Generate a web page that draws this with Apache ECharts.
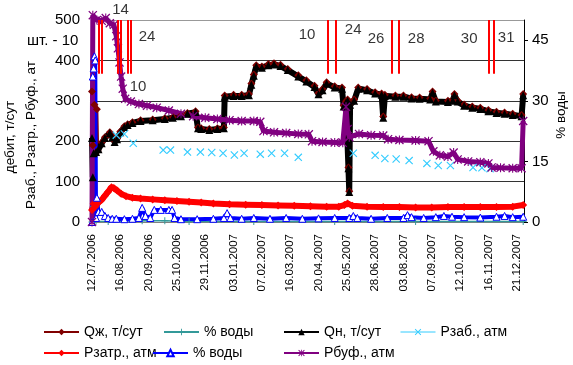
<!DOCTYPE html>
<html><head><meta charset="utf-8">
<script src="https://cdn.jsdelivr.net/npm/echarts@6/dist/echarts.min.js"></script>
<style>html,body{margin:0;padding:0;background:#fff}#c{width:573px;height:365px}</style>
</head><body><div id="c"></div>
<script>
// x positions are day indices of the daily category axis (one tick label every 35 rows)
const xLabels = ['12.07.2006','16.08.2006','20.09.2006','25.10.2006','29.11.2006','03.01.2007','07.02.2007','16.03.2007','20.04.2007','25.05.2007','28.06.2007','03.08.2007','07.09.2007','12.10.2007','16.11.2007','21.12.2007'];

const qzData = [[0,323],[1,190],[3,290],[6,279],[7,176],[12,197],[16,210],[22,222],[25,212],[28,200],[31,207],[35,224],[40,237],[44,242],[50,247],[60,252],[75,254],[90,257],[100,260],[110,264],[118,270],[128,274],[131,234],[135,232],[145,230],[155,232],[163,234],[164,313],[175,315],[185,315],[194,317],[197,343],[200,365],[203,388],[210,385],[218,391],[225,393],[233,389],[242,379],[255,363],[265,351],[275,337],[280,319],[285,329],[290,346],[300,336],[309,333],[311,289],[314,299],[316,303],[317,135],[318,76],[319,293],[324,303],[329,333],[340,329],[350,321],[358,318],[360,261],[362,315],[375,313],[385,313],[395,309],[405,308],[418,306],[421,323],[425,301],[440,300],[446,303],[448,317],[452,301],[460,291],[470,286],[480,283],[490,277],[500,273],[510,271],[520,268],[531,265],[533,317]];

const wcutTealData = [[0,0],[2,38],[4,40],[5,2],[20,1],[62,3],[90,3],[120,1],[200,1],[300,1],[400,1],[533,1]];

const qnData = [[0,208],[1,111],[2,170],[5,173],[8,180],[12,195],[16,208],[22,220],[25,210],[28,198],[31,205],[35,222],[40,235],[44,240],[50,245],[60,250],[75,252],[90,255],[100,258],[110,262],[118,268],[128,272],[131,232],[135,230],[145,228],[155,230],[163,232],[164,310],[175,312],[185,312],[194,314],[197,340],[200,362],[203,385],[210,382],[218,388],[225,390],[233,386],[242,376],[255,360],[265,348],[275,334],[280,316],[285,326],[290,343],[300,333],[309,330],[311,286],[314,296],[316,300],[317,133],[318,74],[319,290],[324,300],[329,330],[340,326],[350,318],[358,315],[360,258],[362,312],[375,310],[385,310],[395,306],[405,305],[418,303],[421,320],[425,298],[440,297],[446,300],[448,314],[452,298],[460,288],[470,283],[480,280],[490,274],[500,270],[510,268],[520,265],[531,262],[533,314]];

const pzabData = [[30,215],[40,218],[51,195],[88,178],[97,178],[118,173],[134,173],[148,172],[162,170],[176,166],[188,170],[208,168],[222,170],[238,170],[255,160],[323,170],[350,165],[362,157],[376,156],[392,152],[414,145],[428,140],[443,140],[471,135],[482,134],[492,132]];

const pzatrData = [[0,30],[2,45],[4,38],[8,48],[12,55],[16,65],[20,75],[24,86],[27,84],[31,78],[36,70],[42,64],[50,60],[60,58],[75,56],[90,54],[105,52],[120,50],[135,48],[150,46],[170,44],[190,43],[210,42],[230,41],[250,40],[270,39],[290,38],[305,38],[312,42],[316,46],[322,40],[340,38],[360,37],[380,37],[400,36],[420,36],[440,37],[460,37],[480,37],[500,37],[520,38],[533,42]];

const wcutBlueData = [[0,0],[1,36],[2,38],[3,41],[4,40],[5,1],[6,6],[8,2.5],[12,2.5],[16,1.5],[20,1],[25,0.8],[30,0.8],[40,0.7],[50,0.8],[58,1],[62,3.5],[66,1.5],[72,1],[77,3],[85,3],[95,3],[99,3],[102,1],[110,0.7],[130,0.7],[150,0.8],[163,1],[167,2.2],[171,1],[185,0.8],[200,1],[220,0.8],[240,1],[260,0.8],[280,0.9],[300,1],[318,1],[323,1.5],[328,1],[345,0.8],[365,1],[385,1],[390,1.7],[395,1.2],[410,1],[425,1.2],[435,1.5],[445,1.3],[460,1.2],[480,1.1],[500,1.3],[510,1.5],[520,1.2],[533,1.3]];

const pbufData = [[0,0],[1,512],[6,500],[12,498],[17,505],[22,492],[27,488],[30,460],[32,430],[34,395],[36,360],[38,330],[41,305],[48,298],[58,292],[68,288],[80,283],[95,276],[110,268],[125,262],[140,258],[155,255],[170,252],[185,250],[200,250],[208,248],[212,225],[225,222],[240,220],[255,218],[268,217],[272,200],[285,198],[300,197],[310,196],[314,285],[316,230],[318,210],[330,218],[345,215],[360,214],[366,205],[380,203],[400,202],[416,200],[422,175],[430,165],[440,162],[447,172],[452,155],[465,150],[480,148],[490,145],[494,135],[505,134],[520,133],[531,133],[533,250]];

// event markers: pairs of red lines and their numbers
const eventLines = [8.7, 11.7, 31.5, 35.9, 44.5, 47.6, 292, 301.8, 371, 379.7, 491, 496];
const eventLineTop = 500, eventLineBottom = 367;
const eventLabels = [[35.2,525,'14'],[68,458,'24'],[56.9,334,'10'],[265.9,463,'10'],[322.8,475,'24'],[351.2,453,'26'],[400.7,453,'28'],[466.2,453,'30'],[512,455,'31']];

const FONT = 'Liberation Sans';
const SYM_PLUS = 'path://M4.3,0H5.7V10H4.3Z M0,4.3H10V5.7H0Z';
const SYM_X = 'path://M0,1L1,0L10,9L9,10Z M9,0L10,1L1,10L0,9Z';
const SYM_STAR = 'path://M0,1L1,0L10,9L9,10Z M9,0L10,1L1,10L0,9Z M4.4,0H5.6V10H4.4Z';

const chart = echarts.init(document.getElementById('c'), null, {renderer:'canvas'});

function lineSeries(name, data, color, symbol, size, width, extra) {
  return Object.assign({
    type:'line', name, data, symbol, symbolSize:size, showSymbol:true,
    lineStyle:{color, width}, itemStyle:{color}, animation:false, z:2
  }, extra || {});
}

const legendItems = [
  {name:'Qж, т/сут', left:43, top:325},
  {name:'% воды', left:163, top:325},
  {name:'Qн, т/сут', left:283, top:325},
  {name:'Рзаб., атм', left:400, top:325},
  {name:'Рзатр., атм', left:43, top:346},
  {name:'% воды ', left:152, top:346},
  {name:'Рбуф., атм', left:283, top:346}
];

const option = {
  backgroundColor:'#fff',
  animation:false,
  grid:{left:92, right:49, top:20, bottom:143, containLabel:false},
  xAxis:{
    type:'value', min:0, max:534, interval:35,
    axisLine:{show:true, lineStyle:{color:'#808080'}},
    axisTick:{show:false},
    splitLine:{show:false},
    axisLabel:{
      rotate:90, margin:12, fontFamily:FONT, fontSize:11.5, color:'#000',
      showMaxLabel:false,
      formatter:v => { const i = Math.round(v/35); return (v % 35 === 0 && xLabels[i]) ? xLabels[i] : ''; },
      padding:[0,0,7,0]
    }
  },
  yAxis:[{
    type:'value', min:0, max:500, interval:100,
    axisLine:{show:true, lineStyle:{color:'#808080'}},
    axisTick:{show:false},
    axisLabel:{fontFamily:FONT, fontSize:15, color:'#000', margin:12},
    splitLine:{show:true, lineStyle:{color:['#808080','#333','#333','#333','#333','#999'], width:1}}
  },{
    type:'value', min:0, max:50, interval:15, position:'right',
    axisLine:{show:true, lineStyle:{color:'#000'}},
    axisTick:{show:true, length:4, lineStyle:{color:'#000'}},
    axisLabel:{fontFamily:FONT, fontSize:15, color:'#000', margin:8, showMaxLabel:false},
    splitLine:{show:false}
  }],
  legend: legendItems.map(it => ({
    left:it.left, top:it.top, itemWidth:35, itemHeight:8, itemGap:4, padding:0,
    selectedMode:false,
    textStyle:{fontFamily:FONT, fontSize:14, color:'#000', padding:[0,0,0,0]},
    data: it.name === 'Рзаб., атм'
      ? [{name:it.name, lineStyle:{width:1, color:'#33ccff', opacity:1}}]
      : [it.name]
  })),
  graphic:[
    {type:'text', x:10, y:137, rotation:Math.PI/2, style:{text:'дебит, т/сут', fontFamily:FONT, fontSize:13.5, fill:'#000', align:'center', verticalAlign:'middle'}},
    {type:'text', x:31, y:135, rotation:Math.PI/2, style:{text:'Рзаб., Рзатр., Рбуф., ат', fontFamily:FONT, fontSize:13.5, fill:'#000', align:'center', verticalAlign:'middle'}},
    {type:'text', x:561, y:115, rotation:Math.PI/2, style:{text:'% воды', fontFamily:FONT, fontSize:13.5, fill:'#000', align:'center', verticalAlign:'middle'}},
    {type:'text', x:27, y:41, style:{text:'шт. - 10', fontFamily:FONT, fontSize:15, fill:'#000', align:'left', verticalAlign:'middle'}}
  ],
  series:[
    lineSeries('% воды', wcutTealData, '#339999', SYM_PLUS, 7, 1.5, {yAxisIndex:0}),
    lineSeries('Qж, т/сут', qzData, '#800000', 'diamond', 8, 3, {}),
    lineSeries('Qн, т/сут', qnData, '#000000', 'triangle', 8, 6, {}),
    lineSeries('Рзаб., атм', pzabData, '#33ccff', SYM_X, 8, 0, {lineStyle:{width:0, opacity:0, color:'#33ccff'}}),
    lineSeries('Рзатр., атм', pzatrData, '#ff0000', 'diamond', 8, 6, {}),
    lineSeries('% воды ', wcutBlueData, '#0000ff', 'triangle', 7, 4, {yAxisIndex:1, itemStyle:{color:'#ffffff', borderColor:'#0000ff', borderWidth:1}, lineStyle:{color:'#0000ff', width:4}}),
    lineSeries('Рбуф., атм', pbufData, '#800080', SYM_STAR, 9, 5, {clip:false}),
    {
      type:'line', name:'events', data:[], silent:true, z:5,
      markLine:{symbol:'none', silent:true, animation:false, label:{show:false},
        lineStyle:{color:'#ff0000', width:2, type:'solid'},
        data: eventLines.map(x => [{coord:[x, eventLineTop]}, {coord:[x, eventLineBottom]}])}
    },
    {
      type:'scatter', name:'eventLabels', data:eventLabels, symbolSize:1, clip:false, silent:true, z:6,
      itemStyle:{color:'rgba(0,0,0,0)'},
      label:{show:true, position:'inside', formatter:p => p.data[2], fontFamily:FONT, fontSize:15, color:'#000'}
    }
  ]
};
chart.setOption(option);
</script>
</body></html>
